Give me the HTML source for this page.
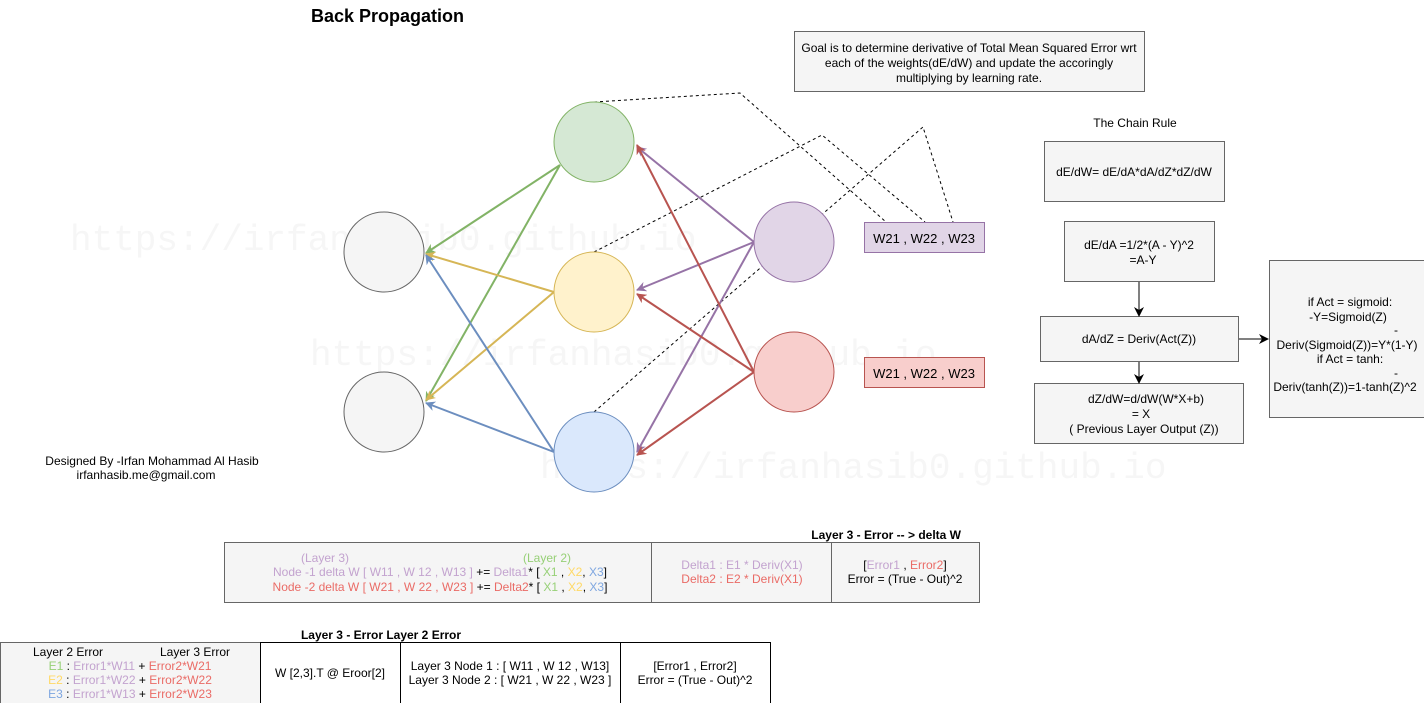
<!DOCTYPE html>
<html><head><meta charset="utf-8"><style>
body{margin:0;width:1424px;height:703px;background:#fff;overflow:hidden;font-family:"Liberation Sans",sans-serif;}
svg{position:absolute;left:0;top:0}
</style></head><body>
<svg width="1424" height="703" viewBox="0 0 1424 703" font-family="Liberation Sans, sans-serif">
<defs>
<marker id="mG" markerWidth="10" markerHeight="10" refX="9" refY="5" orient="auto" markerUnits="userSpaceOnUse"><path d="M0,0 L10,5 L0,10 L3,5z" fill="#82b366"/></marker>
<marker id="mY" markerWidth="10" markerHeight="10" refX="9" refY="5" orient="auto" markerUnits="userSpaceOnUse"><path d="M0,0 L10,5 L0,10 L3,5z" fill="#d6b656"/></marker>
<marker id="mB" markerWidth="10" markerHeight="10" refX="9" refY="5" orient="auto" markerUnits="userSpaceOnUse"><path d="M0,0 L10,5 L0,10 L3,5z" fill="#6c8ebf"/></marker>
<marker id="mP" markerWidth="10" markerHeight="10" refX="9" refY="5" orient="auto" markerUnits="userSpaceOnUse"><path d="M0,0 L10,5 L0,10 L3,5z" fill="#9673a6"/></marker>
<marker id="mR" markerWidth="10" markerHeight="10" refX="9" refY="5" orient="auto" markerUnits="userSpaceOnUse"><path d="M0,0 L10,5 L0,10 L3,5z" fill="#b85450"/></marker>
<marker id="mK" markerWidth="10" markerHeight="10" refX="9" refY="5" orient="auto" markerUnits="userSpaceOnUse"><path d="M0,0 L10,5 L0,10 L3,5z" fill="#000"/></marker>
</defs>
<g fill="#f6f6f6" font-size="36" font-family="Liberation Mono, monospace">
<text x="70" y="250">https://irfanhasib0.github.io</text>
<text x="310" y="365">https://irfanhasib0.github.io</text>
<text x="540" y="478">https://irfanhasib0.github.io</text>
</g>
<text x="311" y="22" font-size="18" font-weight="bold">Back Propagation</text>
<g fill="none" stroke="#000" stroke-dasharray="3,3" stroke-width="1">
<polyline points="594,102 740,93 886,222"/>
<polyline points="594,252 822,135 925,222"/>
<polyline points="594,412 923,127 953,222"/>
</g>
<g stroke-width="2" fill="none">
<line x1="560" y1="165" x2="426" y2="253" stroke="#82b366" marker-end="url(#mG)"/>
<line x1="560" y1="165" x2="426" y2="401" stroke="#82b366" marker-end="url(#mG)"/>
<line x1="554" y1="292" x2="426" y2="254" stroke="#d6b656" marker-end="url(#mY)"/>
<line x1="554" y1="292" x2="426" y2="400" stroke="#d6b656" marker-end="url(#mY)"/>
<line x1="554" y1="452" x2="426" y2="255" stroke="#6c8ebf" marker-end="url(#mB)"/>
<line x1="554" y1="452" x2="426" y2="403" stroke="#6c8ebf" marker-end="url(#mB)"/>
<line x1="754" y1="242" x2="637" y2="147" stroke="#9673a6" marker-end="url(#mP)"/>
<line x1="754" y1="242" x2="637" y2="290" stroke="#9673a6" marker-end="url(#mP)"/>
<line x1="754" y1="242" x2="637" y2="452" stroke="#9673a6" marker-end="url(#mP)"/>
<line x1="754" y1="372" x2="637" y2="145" stroke="#b85450" marker-end="url(#mR)"/>
<line x1="754" y1="372" x2="637" y2="294" stroke="#b85450" marker-end="url(#mR)"/>
<line x1="754" y1="372" x2="637" y2="455" stroke="#b85450" marker-end="url(#mR)"/>
</g>
<g stroke-width="1">
<circle cx="384" cy="252" r="40" fill="#f5f5f5" stroke="#666"/>
<circle cx="384" cy="412" r="40" fill="#f5f5f5" stroke="#666"/>
<circle cx="594" cy="142" r="40" fill="#d5e8d4" stroke="#82b366"/>
<circle cx="594" cy="292" r="40" fill="#fff2cc" stroke="#d6b656"/>
<circle cx="594" cy="452" r="40" fill="#dae8fc" stroke="#6c8ebf"/>
<circle cx="794" cy="242" r="40" fill="#e1d5e7" stroke="#9673a6"/>
<circle cx="794" cy="372" r="40" fill="#f8cecc" stroke="#b85450"/>
</g>
<rect x="864.5" y="222.5" width="120" height="30" fill="#e1d5e7" stroke="#9673a6"/>
<text x="924" y="243" font-size="13" text-anchor="middle">W21 , W22 , W23</text>
<rect x="864.5" y="357.5" width="120" height="30" fill="#f8cecc" stroke="#b85450"/>
<text x="924" y="378" font-size="13" text-anchor="middle">W21 , W22 , W23</text>
<rect x="794.5" y="31.5" width="350" height="60" fill="#f5f5f5" stroke="#666"/>
<g font-size="12" text-anchor="middle">
<text x="969" y="52">Goal is to determine derivative of Total Mean Squared Error wrt</text>
<text x="969" y="67">each of the weights(dE/dW) and update the accoringly</text>
<text x="969" y="82">multiplying by learning rate.</text>
<text x="1135" y="127">The Chain Rule</text>
</g>
<g fill="#f5f5f5" stroke="#666">
<rect x="1044.5" y="141.5" width="180" height="60"/>
<rect x="1064.5" y="221.5" width="150" height="60"/>
<rect x="1040.5" y="316.5" width="198" height="45"/>
<rect x="1034.5" y="383.5" width="209" height="60"/>
<rect x="1269.5" y="260.5" width="160" height="157"/>
</g>
<g stroke="#000" stroke-width="1">
<line x1="1139" y1="282" x2="1139" y2="316" marker-end="url(#mK)"/>
<line x1="1139" y1="362" x2="1139" y2="383" marker-end="url(#mK)"/>
<line x1="1239" y1="339" x2="1268" y2="339" marker-end="url(#mK)"/>
</g>
<g font-size="12" text-anchor="middle">
<text x="1134" y="176">dE/dW= dE/dA*dA/dZ*dZ/dW</text>
<text x="1139" y="249">dE/dA =1/2*(A - Y)^2</text>
<text x="1143" y="264">=A-Y</text>
<text x="1139" y="343">dA/dZ = Deriv(Act(Z))</text>
<text x="1146" y="403">dZ/dW=d/dW(W*X+b)</text>
<text x="1141" y="418">= X</text>
<text x="1144" y="433">( Previous Layer Output (Z))</text>
<text x="1350" y="306">if Act = sigmoid:</text>
<text x="1348" y="321">-Y=Sigmoid(Z)</text>
<text x="1396" y="334">-</text>
<text x="1347" y="349">Deriv(Sigmoid(Z))=Y*(1-Y)</text>
<text x="1350" y="363">if Act = tanh:</text>
<text x="1396" y="377">-</text>
<text x="1345" y="391">Deriv(tanh(Z))=1-tanh(Z)^2</text>
<text x="152" y="465">Designed By  -Irfan Mohammad Al Hasib</text>
<text x="146" y="479">irfanhasib.me@gmail.com</text>
</g>
<text x="961" y="539" font-size="12" font-weight="bold" text-anchor="end">Layer 3 - Error -- &gt; delta W</text>
<rect x="224.5" y="542.5" width="755" height="60" fill="#f5f5f5" stroke="#666"/>
<line x1="651.5" y1="542" x2="651.5" y2="602" stroke="#666"/>
<line x1="831.5" y1="542" x2="831.5" y2="602" stroke="#666"/>
<g font-size="12" text-anchor="middle">
<text x="325" y="562" fill="#c3a3cf">(Layer 3)</text>
<text x="547" y="562" fill="#97d077">(Layer 2)</text>
<text x="440" y="576"><tspan fill="#c3a3cf">Node -1 delta W [ W11 , W 12  , W13 ]</tspan><tspan fill="#000">  += </tspan><tspan fill="#c3a3cf">Delta1</tspan><tspan fill="#000">* [ </tspan><tspan fill="#97d077">X1</tspan><tspan fill="#000"> , </tspan><tspan fill="#ffd966">X2</tspan><tspan fill="#000">, </tspan><tspan fill="#7ea6e0">X3</tspan><tspan fill="#000">]</tspan></text>
<text x="440" y="591"><tspan fill="#ea6b66">Node -2 delta W [ W21 , W 22 , W23 ]</tspan><tspan fill="#000">  += </tspan><tspan fill="#ea6b66">Delta2</tspan><tspan fill="#000">* [ </tspan><tspan fill="#97d077">X1</tspan><tspan fill="#000"> , </tspan><tspan fill="#ffd966">X2</tspan><tspan fill="#000">, </tspan><tspan fill="#7ea6e0">X3</tspan><tspan fill="#000">]</tspan></text>
<text x="742" y="569" fill="#c3a3cf">Delta1 : E1 * Deriv(X1)</text>
<text x="742" y="583" fill="#ea6b66">Delta2 : E2 * Deriv(X1)</text>
<text x="905" y="569"><tspan>[</tspan><tspan fill="#c3a3cf">Error1</tspan><tspan> , </tspan><tspan fill="#ea6b66">Error2</tspan><tspan>]</tspan></text>
<text x="905" y="583">Error = (True - Out)^2</text>
</g>
<text x="381" y="639" font-size="12" font-weight="bold" text-anchor="middle">Layer 3 - Error Layer 2 Error</text>
<rect x="0.5" y="642.5" width="260" height="61" fill="#f5f5f5" stroke="#666"/>
<rect x="260.5" y="642.5" width="510" height="61" fill="#fff" stroke="#000"/>
<line x1="400.5" y1="642" x2="400.5" y2="703" stroke="#000"/>
<line x1="620.5" y1="642" x2="620.5" y2="703" stroke="#000"/>
<g font-size="12" text-anchor="middle">
<text x="68" y="656">Layer 2 Error</text>
<text x="195" y="656">Layer 3 Error</text>
<text x="130" y="670"><tspan fill="#97d077">E1</tspan> : <tspan fill="#c3a3cf">Error1*W11</tspan> + <tspan fill="#ea6b66">Error2*W21</tspan></text>
<text x="130" y="684"><tspan fill="#ffd966">E2</tspan> : <tspan fill="#c3a3cf">Error1*W22</tspan> + <tspan fill="#ea6b66">Error2*W22</tspan></text>
<text x="130" y="698"><tspan fill="#7ea6e0">E3</tspan> : <tspan fill="#c3a3cf">Error1*W13</tspan> + <tspan fill="#ea6b66">Error2*W23</tspan></text>
<text x="330" y="677">W [2,3].T @ Eroor[2]</text>
<text x="510" y="670">Layer 3 Node 1 : [ W11 , W 12  , W13]</text>
<text x="510" y="684">Layer 3 Node 2 : [ W21 , W 22 , W23 ]</text>
<text x="695" y="670">[Error1 , Error2]</text>
<text x="695" y="684">Error = (True - Out)^2</text>
</g>
</svg>
</body></html>
